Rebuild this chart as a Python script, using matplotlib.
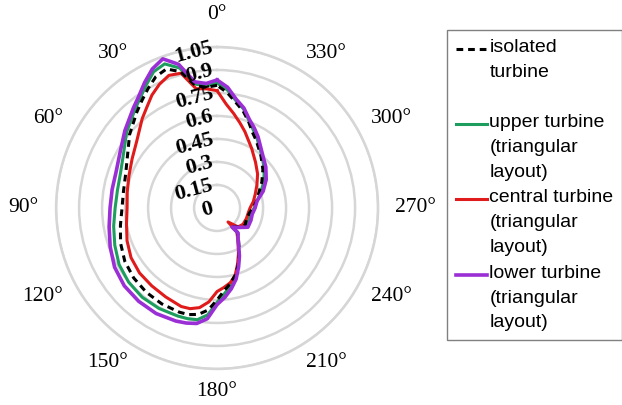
import numpy as np
import matplotlib
matplotlib.use("Agg")
import matplotlib.pyplot as plt
from matplotlib.legend_handler import HandlerLine2D
from matplotlib.transforms import offset_copy

# angle (deg, counter-clockwise from top) and normalised values
angles = [0, 5, 10, 15, 20, 25, 30, 35, 40, 50, 60, 70, 80, 90, 100, 110, 120,
          130, 140, 150, 160, 165, 170, 175, 180, 185, 190, 195, 200, 205, 210,
          214, 220, 218, 228, 238, 250, 260, 270, 280, 290, 300, 310, 320, 330,
          335, 340, 345, 350, 355, 360]

isolated = [0.80, 0.79, 0.81, 0.92, 0.965, 0.945, 0.90, 0.855, 0.815, 0.745,
            0.675, 0.635, 0.62, 0.62, 0.64, 0.67, 0.695, 0.71, 0.718, 0.722,
            0.723, 0.72, 0.705, 0.668, 0.60, 0.54, 0.50, 0.455, 0.40, 0.34,
            0.285, 0.25, 0.205, 0.155, 0.185, 0.215, 0.205, 0.212, 0.235, 0.262,
            0.29, 0.337, 0.39, 0.445, 0.51, 0.545, 0.60, 0.655, 0.70, 0.755, 0.80]

upper = [0.815, 0.80, 0.82, 0.945, 1.0, 0.98, 0.925, 0.875, 0.835, 0.77,
         0.705, 0.67, 0.66, 0.665, 0.685, 0.71, 0.738, 0.753, 0.76, 0.757,
         0.75, 0.747, 0.74, 0.70, 0.615, 0.56, 0.515, 0.465, 0.405, 0.34,
         0.28, 0.245, 0.21, 0.157, 0.188, 0.226, 0.22, 0.222, 0.242, 0.265,
         0.305, 0.352, 0.402, 0.452, 0.522, 0.56, 0.607, 0.668, 0.71, 0.772, 0.815]

central = [0.765, 0.78, 0.79, 0.91, 0.92, 0.89, 0.85, 0.80, 0.76, 0.683,
           0.64, 0.612, 0.595, 0.587, 0.60, 0.625, 0.648, 0.66, 0.663, 0.67,
           0.684, 0.68, 0.66, 0.615, 0.545, 0.52, 0.495, 0.455, 0.39, 0.33,
           0.275, 0.24, 0.20, 0.116, 0.185, 0.20, 0.203, 0.205, 0.215, 0.24,
           0.265, 0.30, 0.345, 0.39, 0.45, 0.485, 0.53, 0.575, 0.625, 0.68, 0.765]

lower = [0.835, 0.815, 0.835, 0.97, 1.035, 1.0, 0.945, 0.89, 0.85, 0.785,
         0.73, 0.70, 0.695, 0.698, 0.715, 0.742, 0.772, 0.79, 0.795, 0.795,
         0.785, 0.777, 0.765, 0.725, 0.63, 0.585, 0.535, 0.48, 0.41, 0.345,
         0.28, 0.245, 0.213, 0.158, 0.19, 0.237, 0.235, 0.233, 0.248, 0.265,
         0.32, 0.37, 0.415, 0.46, 0.535, 0.575, 0.615, 0.675, 0.72, 0.79, 0.835]

rings = [0, 0.15, 0.3, 0.45, 0.6, 0.75, 0.9, 1.05]
ring_labels = ["0", "0.15", "0.3", "0.45", "0.6", "0.75", "0.9", "1.05"]
theta_ticks = list(range(0, 360, 30))
theta_labels = [f"{a}°" for a in theta_ticks]

LEG_SIZE = 14
LEG_SPACING = 1.6


class FirstLineHandler(HandlerLine2D):
    # put the legend line next to the first line of a multi-line label
    def __init__(self, nlines, **kw):
        super().__init__(**kw)
        self.nlines = nlines

    def create_artists(self, legend, orig_handle, xdescent, ydescent,
                       width, height, fontsize, trans):
        arts = super().create_artists(legend, orig_handle, xdescent, ydescent,
                                      width, height, fontsize, trans)
        shift = (self.nlines - 1) / 2 * fontsize * 1.19
        for a in arts:
            a.set_ydata(np.asarray(a.get_ydata()) + shift)
        return arts


fig = plt.figure(figsize=(6.22, 4.05), dpi=100)
ax = fig.add_axes([0.090, 0.089, 0.518, 0.795], projection="polar")
ax.set_theta_zero_location("N")
ax.set_theta_direction(1)

th = np.deg2rad(angles)
l_up, = ax.plot(th, upper, color="#1e9e5e", lw=2.2, zorder=2,
                label="upper turbine\n(triangular\nlayout)")
l_ce, = ax.plot(th, central, color="#e01b1b", lw=2.2, zorder=3,
                label="central turbine\n(triangular\nlayout)")
l_is, = ax.plot(th, isolated, color="black", lw=2.2, ls=(0, (2.2, 1.6)), zorder=4,
                label="isolated\nturbine\n")
l_lo, = ax.plot(th, lower, color="#9b2fd6", lw=2.6, zorder=5,
                label="lower turbine\n(triangular\nlayout)")

ax.set_ylim(0, 1.05)
ax.set_yticks(rings)
ax.set_yticklabels([])
ax.yaxis.grid(True, color="#d6d6d6", lw=1.8)
ax.set_xticks(np.deg2rad(theta_ticks))
ax.set_xticklabels([])
ax.xaxis.grid(False)
ax.spines["polar"].set_color("#d6d6d6")
ax.spines["polar"].set_linewidth(1.8)

# angle labels, a little outside the outer ring
for a, lab in zip(theta_ticks, theta_labels):
    s, c = -np.sin(np.deg2rad(a)), np.cos(np.deg2rad(a))
    hw = 5.1 * len(lab)
    dx = 17 * s + hw * np.sign(round(s, 6))
    dy = 17 * c
    if a == 0:
        dy += 15
    elif a == 180:
        dy -= 6
    tr = offset_copy(ax.transData, fig=fig, x=dx, y=dy, units="dots")
    ax.text(np.deg2rad(a), 1.05, lab, transform=tr, ha="center", va="center",
            fontsize=15.5, family="Liberation Serif", clip_on=False)

# radial labels, drawn along the 0° direction
trans = offset_copy(ax.transData, fig=fig, x=-3, y=0, units="points")
for r, lab in zip(rings, ring_labels):
    ax.text(0, r, lab, transform=trans, ha="right", va="center",
            rotation=15, rotation_mode="anchor", fontsize=16,
            fontweight="bold", family="Liberation Serif", zorder=6)

handles = [l_is, l_up, l_ce, l_lo]
leg = fig.legend(handles, [h.get_label() for h in handles],
                 loc="upper left", bbox_to_anchor=(0.719, 0.926),
                 prop={"family": "Liberation Sans", "size": LEG_SIZE},
                 handlelength=1.6, handletextpad=0.12, labelspacing=0.45,
                 borderpad=0.45, borderaxespad=0, fancybox=False, framealpha=1,
                 edgecolor="#808080",
                 handler_map={l_is: FirstLineHandler(3), l_up: FirstLineHandler(3),
                              l_ce: FirstLineHandler(3), l_lo: FirstLineHandler(3)})
leg.get_frame().set_linewidth(1.0)
for t in leg.get_texts():
    t.set_linespacing(LEG_SPACING)

fig.savefig("out.png", dpi=100)
